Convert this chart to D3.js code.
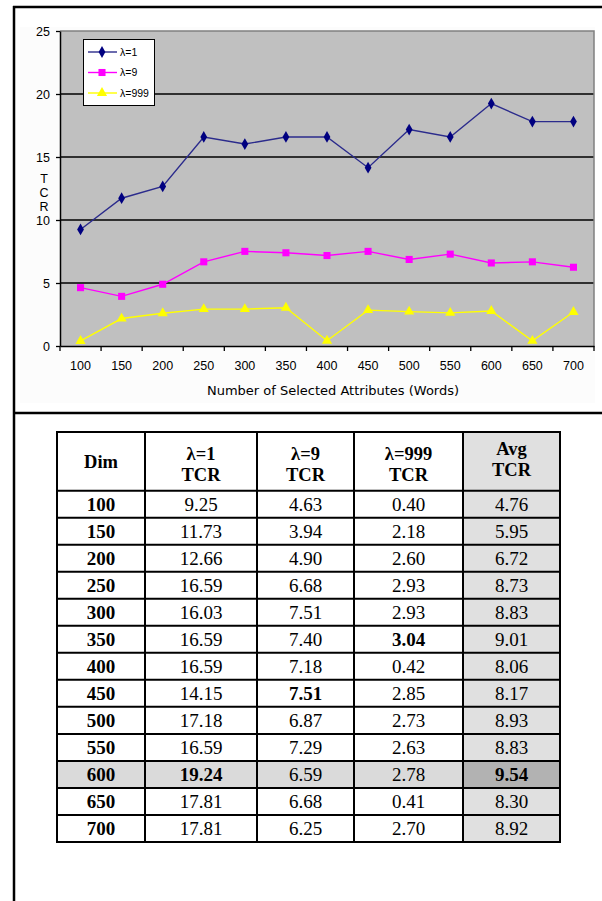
<!DOCTYPE html>
<html><head><meta charset="utf-8">
<script src="https://cdn.jsdelivr.net/npm/d3@7"></script>
<style>body{margin:0;background:#fff}svg{display:block}</style>
</head><body>
<svg id="c" width="602" height="901"></svg>
<script>
const categories = ["100","150","200","250","300","350","400","450","500","550","600","650","700"];
const lambda1 = [9.25,11.73,12.66,16.59,16.03,16.59,16.59,14.15,17.18,16.59,19.24,17.81,17.81];
const lambda9 = [4.63,3.94,4.90,6.68,7.51,7.40,7.18,7.51,6.87,7.29,6.59,6.68,6.25];
const lambda999 = [0.40,2.18,2.60,2.93,2.93,3.04,0.42,2.85,2.73,2.63,2.78,0.41,2.70];
const avgTCR = [4.76,5.95,6.72,8.73,8.83,9.01,8.06,8.17,8.93,8.83,9.54,8.30,8.92];
const seriesNames = ["λ=1","λ=9","λ=999"];
const yTicks = [0,5,10,15,20,25];
const xTitle = "Number of Selected Attributes (Words)";
const yTitle = ["T","C","R"];
const headers = [["Dim"],["λ=1","TCR"],["λ=9","TCR"],["λ=999","TCR"],["Avg","TCR"]];
// bold cells: [rowIndex, colIndex]
const boldCells = [[5,3],[7,2],[10,1],[10,4]];
const highlightRow = 10;

const svg = d3.select("#c");
const sans = "'Liberation Sans', Arial, sans-serif";
const wide = "'DejaVu Sans', Verdana, sans-serif";
const serif = "'Liberation Serif', 'Times New Roman', serif";

// outer frame
svg.append("rect").attr("x",20).attr("y",27).attr("width",575).attr("height",376).attr("fill","#fcfcfc");
svg.append("line").attr("x1",13).attr("x2",602).attr("y1",7).attr("y2",7).attr("stroke","#000").attr("stroke-width",2.5);
svg.append("line").attr("x1",14).attr("x2",14).attr("y1",6).attr("y2",901).attr("stroke","#000").attr("stroke-width",2.5);
svg.append("line").attr("x1",13).attr("x2",602).attr("y1",413).attr("y2",413).attr("stroke","#000").attr("stroke-width",2.5);

// chart
const L=60, R=594, T=31, B=346;
const x = d3.scaleBand().domain(categories).range([L,R]).padding(0);
const y = d3.scaleLinear().domain([0,25]).range([B,T]);
const g = svg.append("g");
g.append("rect").attr("x",L).attr("y",T).attr("width",R-L).attr("height",B-T).attr("fill","#c0c0c0");
// gridlines
g.selectAll(".grid").data(yTicks.filter(v=>v>0&&v<25)).join("line")
  .attr("x1",L).attr("x2",R).attr("y1",d=>y(d)).attr("y2",d=>y(d))
  .attr("stroke","#000").attr("stroke-width",1.3);
// plot border top/right
g.append("path").attr("d",`M${L},${T}H${R}V${B}`).attr("fill","none").attr("stroke","#808080").attr("stroke-width",1.5);

// y axis
const yAxis = g.append("g").attr("transform",`translate(${L},0)`)
  .call(d3.axisLeft(y).tickValues(yTicks).tickSize(4).tickSizeOuter(0).tickPadding(6));
yAxis.select(".domain").attr("stroke","#000").attr("stroke-width",1.5);
yAxis.selectAll(".tick line").attr("stroke","#000").attr("stroke-width",1.3);
yAxis.selectAll("text").attr("font-family",sans).attr("font-size",12.5).attr("fill","#000");

// x axis
const xAxis = g.append("g").attr("transform",`translate(0,${B})`)
  .call(d3.axisBottom(x).tickSize(0).tickPadding(15));
xAxis.select(".domain").attr("stroke","#000").attr("stroke-width",1.5);
xAxis.selectAll("text").attr("font-family",sans).attr("font-size",12.5).attr("fill","#000");
// x ticks at band boundaries
const bounds = categories.map(c=>x(c)).concat([R]);
xAxis.selectAll(".bt").data(bounds).join("line").attr("class","bt")
  .attr("x1",d=>d).attr("x2",d=>d).attr("y1",0).attr("y2",5).attr("stroke","#000").attr("stroke-width",1.3);

// titles
g.append("text").attr("x",333).attr("y",395).attr("text-anchor","middle")
  .attr("font-family",wide).attr("font-size",13).text(xTitle);
g.selectAll(".yt").data(yTitle).join("text").attr("class","yt")
  .attr("x",44).attr("y",(d,i)=>183+i*14).attr("text-anchor","middle")
  .attr("font-family",sans).attr("font-size",12.5).text(d=>d);

// series
const cx = c => x(c)+x.bandwidth()/2;
const series = [
  {name:seriesNames[0], values:lambda1, line:"#2b2b8c", fill:"#000080", sym:d3.symbolDiamond, size:40},
  {name:seriesNames[1], values:lambda9, line:"#ff00ff", fill:"#ff00ff", sym:d3.symbolSquare, size:50},
  {name:seriesNames[2], values:lambda999, line:"#ffff00", fill:"#ffff00", sym:d3.symbolTriangle, size:45}
];
const lineGen = d3.line().x((d,i)=>cx(categories[i])).y(d=>y(d));
series.forEach(s=>{
  g.append("path").attr("d",lineGen(s.values)).attr("fill","none").attr("stroke",s.line).attr("stroke-width",1.4);
  g.selectAll(null).data(s.values).join("path")
    .attr("transform",(d,i)=>`translate(${cx(categories[i])},${y(d)})`)
    .attr("d",d3.symbol().type(s.sym).size(s.size)).attr("fill",s.fill);
});

// legend
const lg = g.append("g");
lg.append("rect").attr("x",83.5).attr("y",39.5).attr("width",71).attr("height",66).attr("fill","#fff").attr("stroke","#000").attr("stroke-width",1);
series.forEach((s,i)=>{
  const yy = 52 + i*20.5;
  lg.append("line").attr("x1",88).attr("x2",117).attr("y1",yy).attr("y2",yy).attr("stroke",s.line).attr("stroke-width",1.4);
  lg.append("path").attr("transform",`translate(102,${yy})`).attr("d",d3.symbol().type(s.sym).size(s.size)).attr("fill",s.fill);
  lg.append("text").attr("x",120).attr("y",yy+3.5).attr("font-family",sans).attr("font-size",10.5).text(s.name);
});

// table
const colEdges = [57,145,257,354,463,560];
const tTop = 432, hBottom = 490.7, rowH = 27.02;
const tg = svg.append("g");
const rows = categories.map((c,i)=>[c, lambda1[i].toFixed(2), lambda9[i].toFixed(2), lambda999[i].toFixed(2), avgTCR[i].toFixed(2)]);
// fills
tg.append("rect").attr("x",colEdges[4]).attr("y",tTop).attr("width",colEdges[5]-colEdges[4]).attr("height",hBottom+rowH*rows.length-tTop).attr("fill","#e0e0e0");
tg.append("rect").attr("x",colEdges[0]).attr("y",hBottom+rowH*highlightRow).attr("width",colEdges[4]-colEdges[0]).attr("height",rowH).attr("fill","#dadada");
tg.append("rect").attr("x",colEdges[4]).attr("y",hBottom+rowH*highlightRow).attr("width",colEdges[5]-colEdges[4]).attr("height",rowH).attr("fill","#b2b2b2");
// header text
headers.forEach((h,j)=>{
  const mx = (colEdges[j]+colEdges[j+1])/2;
  if(h.length===1){
    tg.append("text").attr("x",mx).attr("y",468).attr("text-anchor","middle").attr("font-family",serif).attr("font-weight","bold").attr("font-size",18.5).text(h[0]);
  } else {
    const off = j===4 ? -5 : 0;
    h.forEach((t,k)=>tg.append("text").attr("x",mx).attr("y",460+off+k*21).attr("text-anchor","middle").attr("font-family",serif).attr("font-weight","bold").attr("font-size",18.5).text(t));
  }
});
// body text
rows.forEach((r,i)=>{
  r.forEach((t,j)=>{
    const bold = j===0 || boldCells.some(b=>b[0]===i&&b[1]===j);
    tg.append("text").attr("x",(colEdges[j]+colEdges[j+1])/2).attr("y",hBottom+rowH*i+rowH/2+6.5)
      .attr("text-anchor","middle").attr("font-family",serif).attr("font-weight",bold?"bold":"normal").attr("font-size",19).text(t);
  });
});
// grid lines
const tBottom = hBottom+rowH*rows.length;
colEdges.forEach(cxv=>tg.append("line").attr("x1",cxv).attr("x2",cxv).attr("y1",tTop-1).attr("y2",tBottom+1).attr("stroke","#000").attr("stroke-width",2));
[tTop,hBottom].concat(rows.map((r,i)=>hBottom+rowH*(i+1))).forEach(yy=>tg.append("line").attr("x1",colEdges[0]-1).attr("x2",colEdges[5]+1).attr("y1",yy).attr("y2",yy).attr("stroke","#000").attr("stroke-width",2));
</script>
</body></html>
